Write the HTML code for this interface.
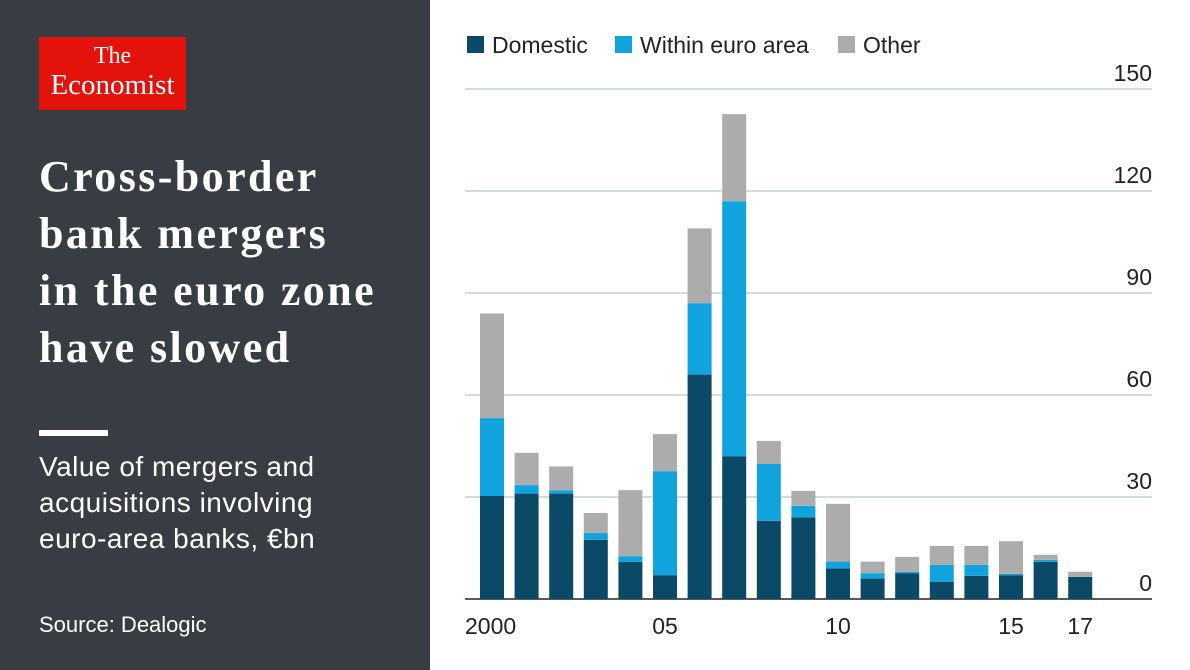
<!DOCTYPE html>
<html><head><meta charset="utf-8">
<style>
body{margin:0;width:1190px;height:670px;overflow:hidden;background:#fff;font-family:"Liberation Sans",sans-serif;}
#left{position:absolute;left:0;top:0;width:430px;height:670px;background:#373d42;color:#fff;}
#logo{position:absolute;left:39px;top:37px;width:147px;height:73px;background:#e3120b;color:#fff;font-family:"Liberation Serif",serif;text-align:center;}
#title{position:absolute;left:39px;top:148px;font-family:"Liberation Serif",serif;font-weight:bold;font-size:44px;letter-spacing:2.4px;line-height:57px;white-space:nowrap;}
#rule{position:absolute;left:39px;top:430px;width:69px;height:6px;background:#fff;}
#sub{position:absolute;left:39px;top:449px;font-size:28px;letter-spacing:0.5px;line-height:36px;white-space:nowrap;}
#src{position:absolute;left:39px;top:612px;font-size:22px;}
svg{position:absolute;left:0;top:0;}
</style></head><body>
<div id="left">
<div id="logo"><div style="font-size:24px;padding-top:6px;line-height:26px">The</div><div style="font-size:29px;line-height:32px">Economist</div></div>
<div id="title">Cross-border<br>bank mergers<br>in the euro zone<br>have slowed</div>
<div id="rule"></div>
<div id="sub">Value of mergers and<br>acquisitions involving<br>euro-area banks, €bn</div>
<div id="src">Source: Dealogic</div>
</div>
<svg id="chart" width="1190" height="670"></svg>
<script>
const years=[2000,2001,2002,2003,2004,2005,2006,2007,2008,2009,2010,2011,2012,2013,2014,2015,2016,2017];
const domestic=[30.3,31,31,17.4,10.9,7,66,42,23,24,9,6,7.6,5,6.8,7,10.9,6.5];
const withinEuro=[22.9,2.5,1,2,1.7,30.6,21,75,16.7,3.4,2,1.6,0.4,5,3.2,0.4,0.6,0];
const other=[30.8,9.5,7,5.9,19.4,10.9,22,25.6,6.8,4.4,17,3.4,4.4,5.6,5.6,9.6,1.5,1.5];
const ticks=[0,30,60,90,120,150];
const xLabels={2000:"2000",2005:"05",2010:"10",2015:"15",2017:"17"};
const NS="http://www.w3.org/2000/svg",svg=document.getElementById('chart');
const y=v=>599-v*3.4, x=i=>492+i*34.6;
function mk(t,a){const e=document.createElementNS(NS,t);for(const k in a)e.setAttribute(k,a[k]);svg.appendChild(e);return e;}
ticks.forEach(t=>{
 const l=mk('line',{x1:465,x2:1152,y1:y(t),y2:y(t),stroke:t===0?'#222':'#b7c6cf','stroke-width':t===0?1.5:1.2});
 
 
 const tx=mk('text',{x:1152,y:y(t)-8,'text-anchor':'end','font-size':23,fill:'#222','font-family':'Liberation Sans,sans-serif'});tx.textContent=t;
 
 
});
const series=[[domestic,'#0b4a66','domestic'],[withinEuro,'#10a3dd','within-euro'],[other,'#acacac','other']];
years.forEach((yr,i)=>{
 let base=0;
 series.forEach(([arr,c,n])=>{
  const v=arr[i];
  const r=mk('rect',{x:x(i)-12,width:24,y:y(base+v),height:v*3.4,fill:c});
  
  
  base+=v;
 });
 if(xLabels[yr]){const t=mk('text',{x:yr===2000?465:x(i),y:634,'text-anchor':yr===2000?'start':'middle','font-size':23,fill:'#222','font-family':'Liberation Sans,sans-serif'});t.textContent=xLabels[yr];
 
 }
});
const leg=[['Domestic','#0b4a66',467],['Within euro area','#10a3dd',615],['Other','#acacac',838]];
leg.forEach(([l,c,lx])=>{
 const r=mk('rect',{x:lx,y:36,width:17,height:17,fill:c});
 
 
 const t=mk('text',{x:lx+25,y:53,'font-size':23,fill:'#222','font-family':'Liberation Sans,sans-serif'});t.textContent=l;
 
 
});
</script>
</body></html>
